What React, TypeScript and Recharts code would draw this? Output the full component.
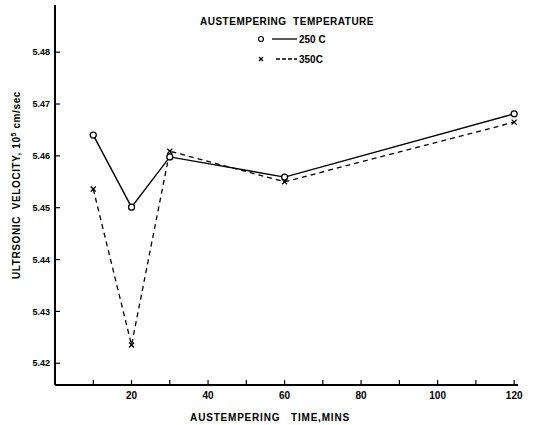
import { LineChart, Line, XAxis, YAxis } from 'recharts';

const times = [10, 20, 30, 60, 120];
const velocity250 = [5.464, 5.4501, 5.4598, 5.4559, 5.4681];
const velocity350 = [5.4536, 5.4235, 5.4609, 5.455, 5.4665];
const xTicks = [10, 20, 30, 40, 50, 60, 70, 80, 90, 100, 110, 120];
const yTicks = [5.42, 5.43, 5.44, 5.45, 5.46, 5.47, 5.48];

const data = times.map((t, i) => ({ t, v250: velocity250[i], v350: velocity350[i] }));

const font = '"Liberation Sans", "DejaVu Sans", sans-serif';

const CircleDot = (props: any) => {
  const { cx, cy } = props;
  if (cx == null || cy == null) return null;
  return <circle cx={cx} cy={cy} r={3} fill="#fff" stroke="#000" strokeWidth={1.3} />;
};

const CrossDot = (props: any) => {
  const { cx, cy } = props;
  if (cx == null || cy == null) return null;
  return (
    <g stroke="#000" strokeWidth={1.3}>
      <line x1={cx - 2.5} y1={cy - 2.5} x2={cx + 2.5} y2={cy + 2.5} />
      <line x1={cx - 2.5} y1={cy + 2.5} x2={cx + 2.5} y2={cy - 2.5} />
    </g>
  );
};

export default function App() {
  return (
    <div style={{ position: 'absolute', left: 0, top: 0, width: 538, height: 425, background: '#fff', fontFamily: font }}>
      <LineChart width={538} height={425} data={data} margin={{ top: 5, right: 20, bottom: 0, left: 0 }}>
        <XAxis
          dataKey="t"
          type="number"
          domain={[0, 121]}
          ticks={xTicks}
          tickFormatter={(v: number) => (v % 20 === 0 ? String(v) : '')}
          tickSize={-5}
          tickMargin={12}
          height={40}
          axisLine={{ stroke: '#000', strokeWidth: 2 }}
          tickLine={{ stroke: '#000', strokeWidth: 1.2 }}
          tick={{ fill: '#000', fontSize: 10, fontWeight: 'bold', fontFamily: font }}
        />
        <YAxis
          type="number"
          domain={[5.4158, 5.4891]}
          ticks={yTicks}
          tickFormatter={(v: number) => v.toFixed(2)}
          tickSize={-5}
          tickMargin={10}
          width={55}
          allowDataOverflow
          axisLine={{ stroke: '#000', strokeWidth: 2 }}
          tickLine={{ stroke: '#000', strokeWidth: 1.2 }}
          tick={{ fill: '#000', fontSize: 9, fontWeight: 'bold', fontFamily: font }}
        />
        <Line
          type="linear"
          dataKey="v250"
          stroke="#000"
          strokeWidth={1.4}
          dot={<CircleDot />}
          activeDot={false}
          isAnimationActive={false}
        />
        <Line
          type="linear"
          dataKey="v350"
          stroke="#000"
          strokeWidth={1.3}
          strokeDasharray="5 4"
          dot={<CrossDot />}
          activeDot={false}
          isAnimationActive={false}
        />
      </LineChart>

      <div
        style={{
          position: 'absolute',
          left: 16,
          top: 185,
          transform: 'translate(-50%, -50%) rotate(-90deg)',
          whiteSpace: 'nowrap',
          fontSize: 10,
          fontWeight: 'bold',
          letterSpacing: 0.6,
        }}
      >
        ULTRSONIC&nbsp;&nbsp;VELOCITY, 10<sup style={{ fontSize: 7 }}>5</sup> cm/sec
      </div>

      <div
        style={{
          position: 'absolute',
          left: 270,
          top: 417,
          transform: 'translate(-50%, -50%)',
          whiteSpace: 'nowrap',
          fontSize: 10,
          fontWeight: 'bold',
          letterSpacing: 0.8,
        }}
      >
        AUSTEMPERING&nbsp;&nbsp;&nbsp;TIME,MINS
      </div>

      <div style={{ position: 'absolute', left: 200, top: 16, fontSize: 10, fontWeight: 'bold', whiteSpace: 'nowrap', letterSpacing: 0.5 }}>
        AUSTEMPERING&nbsp;&nbsp;TEMPERATURE
      </div>
      <div style={{ position: 'absolute', left: 257, top: 33, fontSize: 10, fontWeight: 'bold', whiteSpace: 'nowrap', display: 'flex', alignItems: 'center' }}>
        <svg width={42} height={12}>
          <circle cx={4} cy={6} r={2.5} fill="#fff" stroke="#000" strokeWidth={1.2} />
          <line x1={15} y1={6} x2={40} y2={6} stroke="#000" strokeWidth={1.3} />
        </svg>
        <span>250 C</span>
      </div>
      <div style={{ position: 'absolute', left: 257, top: 53, fontSize: 10, fontWeight: 'bold', whiteSpace: 'nowrap', display: 'flex', alignItems: 'center' }}>
        <svg width={42} height={12}>
          <g stroke="#000" strokeWidth={1.2}>
            <line x1={2} y1={4} x2={6} y2={8} />
            <line x1={2} y1={8} x2={6} y2={4} />
          </g>
          <line x1={19} y1={6} x2={40} y2={6} stroke="#000" strokeWidth={1.3} strokeDasharray="4 2" />
        </svg>
        <span>350C</span>
      </div>
    </div>
  );
}
